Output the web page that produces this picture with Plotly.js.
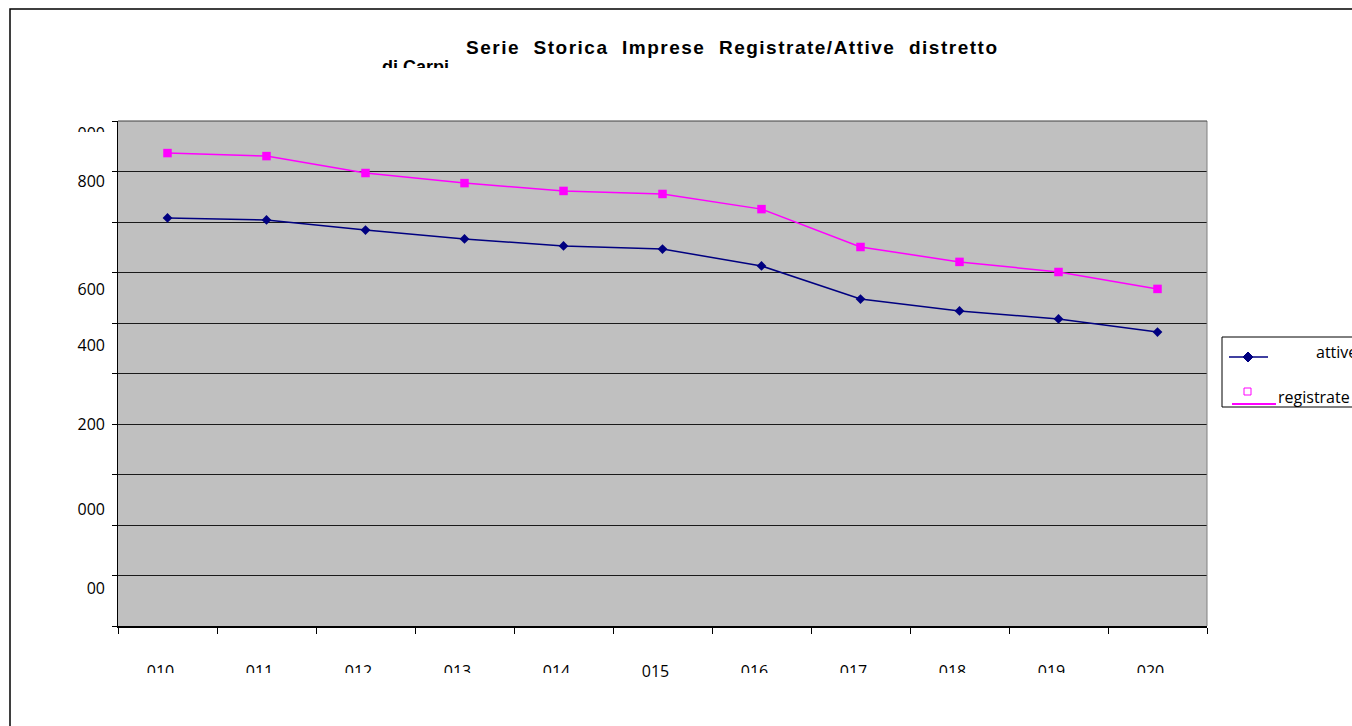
<!DOCTYPE html>
<html>
<head>
<meta charset="utf-8">
<script src="https://cdn.plot.ly/plotly-3.0.1.min.js"></script>
<style>
html,body{margin:0;padding:0;background:#fff;}
#chart{width:1352px;height:726px;}
#chart .gtitle{letter-spacing:1.5px;}
</style>
</head>
<body>
<div id="chart"></div>
<script>
// ---- data ----
var years = ['2010','2011','2012','2013','2014','2015','2016','2017','2018','2019','2020'];
var yearLabels = ['010','011','012','013','014','015','016','017','018','019','020'];
var attive = [2616, 2608, 2568, 2533, 2505, 2493, 2426, 2295, 2248, 2216, 2164];
var registrate = [2873, 2861, 2794, 2754, 2723, 2711, 2651, 2501, 2442, 2402, 2335];
var yLabelText = ['000','800','600','400','200','000','00'];
var yLabelPos = [2949, 2762, 2335, 2110, 1800, 1463, 1150];
var seriesNames = ['attive','registrate'];

// ---- layout geometry (pixels of the 1352x726 page) ----
var W = 1352, H = 726;
var L = 118, R = 1207, T = 121, B = 626;
function px(x){ return (x - L) / (R - L); }
function py(y){ return (B - y) / (B - T); }

var tickFont = {family: 'Open Sans, sans-serif', size: 16, color: '#000'};
var titleFont = {family: 'Liberation Sans, Arial, sans-serif', size: 19, color: '#000'};
var subFont = {family: 'Liberation Sans, Arial, sans-serif', size: 18, color: '#000'};

var traces = [
  {
    x: years, y: attive, name: seriesNames[0], type: 'scatter', mode: 'lines+markers',
    line: {color: '#000080', width: 1.5},
    marker: {symbol: 'diamond', size: 7.5, color: '#000080'},
    showlegend: false, hoverinfo: 'x+y'
  },
  {
    x: years, y: registrate, name: seriesNames[1], type: 'scatter', mode: 'lines+markers',
    line: {color: '#FF00FF', width: 1.5},
    marker: {symbol: 'square', size: 8.5, color: '#FF00FF'},
    showlegend: false, hoverinfo: 'x+y'
  },
  // invisible trace to activate the label axis
  {x: [years[0]], y: [attive[0]], yaxis: 'y2', mode: 'markers', marker: {opacity: 0}, showlegend: false, hoverinfo: 'skip'}
];

var shapes = [
  // outer chart frame (runs off the page to the right and bottom)
  {type: 'rect', xref: 'paper', yref: 'paper', x0: px(10), x1: px(1400), y0: py(800), y1: py(9),
   line: {color: '#000', width: 1.5}, fillcolor: 'rgba(0,0,0,0)', layer: 'below'},
  // right and top border of the plot area
  {type: 'line', xref: 'paper', yref: 'paper', x0: 1, x1: 1, y0: 0, y1: 1,
   line: {color: '#808080', width: 1}, layer: 'above'},
  {type: 'line', xref: 'paper', yref: 'paper', x0: 0, x1: 1, y0: 1, y1: 1,
   line: {color: '#404040', width: 1}, layer: 'above'},
  // covers that clip the tick labels
  {type: 'rect', xref: 'paper', yref: 'paper', x0: px(125), x1: px(638), y0: py(700), y1: py(673),
   line: {width: 0}, fillcolor: '#fff', layer: 'above'},
  {type: 'rect', xref: 'paper', yref: 'paper', x0: px(680), x1: px(1215), y0: py(700), y1: py(673),
   line: {width: 0}, fillcolor: '#fff', layer: 'above'},
  {type: 'rect', xref: 'paper', yref: 'paper', x0: px(30), x1: px(110), y0: py(145), y1: py(132),
   line: {width: 0}, fillcolor: '#fff', layer: 'above'},
  // legend box
  {type: 'rect', xref: 'paper', yref: 'paper', x0: px(1222), x1: px(1380), y0: py(407), y1: py(337),
   line: {color: '#000', width: 1}, fillcolor: '#fff', layer: 'above'},
  {type: 'line', xref: 'paper', yref: 'paper', x0: px(1229), x1: px(1268), y0: py(357), y1: py(357),
   line: {color: '#000080', width: 1.5}, layer: 'above'},
  {type: 'path', xref: 'paper', yref: 'paper',
   path: 'M' + px(1248) + ',' + py(352) + ' L' + px(1253) + ',' + py(357) + ' L' + px(1248) + ',' + py(362) + ' L' + px(1243) + ',' + py(357) + ' Z',
   line: {color: '#000080', width: 1}, fillcolor: '#000080', layer: 'above'},
  {type: 'rect', xref: 'paper', yref: 'paper', x0: px(1244), x1: px(1251), y0: py(395), y1: py(388),
   line: {color: '#FF00FF', width: 1}, fillcolor: 'rgba(0,0,0,0)', layer: 'above'},
  {type: 'line', xref: 'paper', yref: 'paper', x0: px(1232), x1: px(1276), y0: py(404), y1: py(404),
   line: {color: '#FF00FF', width: 2}, layer: 'above'}
];

var annotations = [
  {text: seriesNames[0], xref: 'paper', yref: 'paper', x: px(1314), y: py(352), xanchor: 'left', yanchor: 'middle',
   showarrow: false, font: tickFont},
  {text: seriesNames[1], xref: 'paper', yref: 'paper', x: px(1276), y: py(397), xanchor: 'left', yanchor: 'middle',
   showarrow: false, font: tickFont},
  {text: '<b>di Carpi</b>', xref: 'paper', yref: 'paper', x: px(381), y: py(56), xanchor: 'left', yanchor: 'top',
   height: 11, valign: 'top', borderpad: 0, showarrow: false, font: subFont}
];

var layout = {
  width: W, height: H,
  margin: {l: L, r: W - R, t: T, b: H - B, pad: 0, autoexpand: false},
  paper_bgcolor: '#fff',
  plot_bgcolor: '#C0C0C0',
  showlegend: false,
  title: {
    text: '<b>Serie  Storica  Imprese  Registrate/Attive  distretto</b>',
    xref: 'container', x: 466 / W, xanchor: 'left',
    yref: 'container', y: 1 - 47 / H, yanchor: 'middle',
    font: titleFont
  },
  xaxis: {
    type: 'category', categoryorder: 'array', categoryarray: years,
    tickvals: years, ticktext: yearLabels,
    tickson: 'boundaries', ticks: 'outside', ticklen: 6, tickcolor: '#000', tickwidth: 1,
    showline: true, linecolor: '#000', linewidth: 1.5,
    showgrid: false, zeroline: false,
    tickfont: tickFont, ticklabelstandoff: 30, ticklabelshift: -7,
    range: [-0.5, 10.5], fixedrange: true
  },
  yaxis: {
    range: [1000, 3000], tick0: 1000, dtick: 200,
    showticklabels: false, ticks: 'outside', ticklen: 5, tickcolor: '#000', tickwidth: 1,
    showline: true, linecolor: '#000', linewidth: 1.5,
    showgrid: true, gridcolor: '#1a1a1a', gridwidth: 1, zeroline: false, fixedrange: true
  },
  yaxis2: {
    overlaying: 'y', side: 'left', anchor: 'x', range: [1000, 3000],
    tickmode: 'array', tickvals: yLabelPos, ticktext: yLabelText,
    ticks: '', showgrid: false, showline: false, zeroline: false,
    tickfont: tickFont, ticklabelstandoff: 12, fixedrange: true
  },
  shapes: shapes,
  annotations: annotations
};

Plotly.newPlot('chart', traces, layout, {displayModeBar: false, staticPlot: true});
</script>
</body>
</html>
